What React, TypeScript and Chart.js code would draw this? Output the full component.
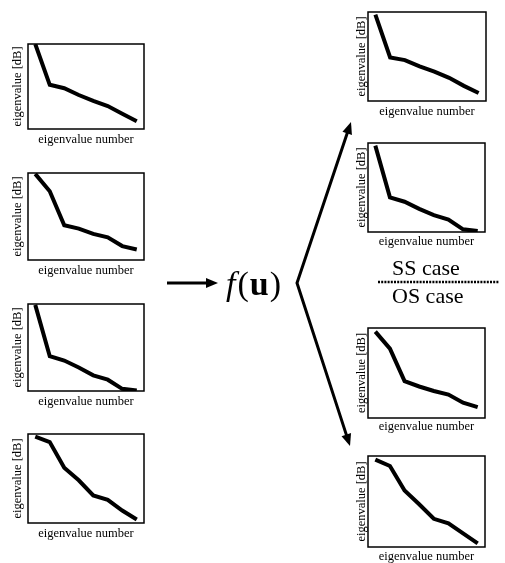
import React, { useEffect, useRef } from "react";
import { Chart, registerables } from "chart.js";

Chart.register(...registerables);

// eigenvalue index (8 eigenvalues per plot)
const eigenIndex = [1, 2, 3, 4, 5, 6, 7, 8];

// left column (inputs), relative eigenvalue level 0..100
const inputA = [100, 52, 48, 40, 33, 27, 18, 9];
const inputB = [99, 79, 40, 36, 30, 26, 16, 12];
const inputC = [99, 40, 35, 27, 18, 13, 2.5, 0.5];
const inputD = [97, 91, 62, 48, 31, 26, 14, 4];

// right column: SS case (top two) and OS case (bottom two)
const ssA = [97, 49, 46, 39, 33, 26, 17, 9];
const ssB = [97, 39, 34, 26, 19, 14, 3, 1];
const osA = [96, 77, 41, 35, 30, 26, 17, 12];
const osB = [96, 89, 62, 47, 31, 26, 15, 4];

const xTitle = "eigenvalue number";
const yTitle = "eigenvalue [dB]";
const ssLabel = "SS case";
const osLabel = "OS case";

const FONT = "'Liberation Serif', 'Times New Roman', serif";
const TITLE_SIZE = 12.5;

const boxPlugin = {
  id: "boxFrame",
  afterDatasetsDraw(chart: any) {
    const { ctx, chartArea } = chart;
    ctx.save();
    ctx.strokeStyle = "#000";
    ctx.lineWidth = 1.5;
    ctx.strokeRect(chartArea.left, chartArea.top, chartArea.right - chartArea.left, chartArea.bottom - chartArea.top);
    ctx.restore();
  },
};

type Box = { x0: number; y0: number; x1: number; y1: number; yOff: number; xOff: number };

const LEFT_W = 24;
const BOTTOM_H = 21;
const PAD = 4;

function MiniChart({ box, values }: { box: Box; values: number[] }) {
  const ref = useRef<HTMLCanvasElement | null>(null);
  const w = box.x1 - box.x0 + LEFT_W + PAD;
  const h = box.y1 - box.y0 + BOTTOM_H + PAD;
  useEffect(() => {
    if (!ref.current) return;
    const half = TITLE_SIZE / 2;
    const ypb = Math.max(0, box.yOff - half);
    const xpb = BOTTOM_H - box.xOff - half;
    const chart = new Chart(ref.current, {
      type: "line",
      data: {
        labels: eigenIndex,
        datasets: [
          {
            data: eigenIndex.map((x, i) => ({ x, y: values[i] })),
            borderColor: "#000",
            borderWidth: 4,
            pointRadius: 0,
            tension: 0,
            fill: false,
          },
        ],
      },
      options: {
        animation: false,
        responsive: false,
        devicePixelRatio: 1,
        layout: { padding: { top: PAD, right: PAD, left: 0, bottom: 0 } },
        plugins: { legend: { display: false }, tooltip: { enabled: false } },
        scales: {
          x: {
            type: "linear",
            min: 0.5,
            max: 8.5,
            grid: { display: false, drawTicks: false, tickLength: 0 },
            border: { display: false },
            ticks: { display: false, padding: 0 },
            title: {
              display: true,
              text: xTitle,
              color: "#000",
              font: { family: FONT, size: TITLE_SIZE, lineHeight: 1 },
              padding: { top: BOTTOM_H - TITLE_SIZE - xpb, bottom: xpb },
            },
          },
          y: {
            min: 0,
            max: 100,
            grid: { display: false, drawTicks: false, tickLength: 0 },
            border: { display: false },
            ticks: { display: false, padding: 0 },
            title: {
              display: true,
              text: yTitle,
              color: "#000",
              font: { family: FONT, size: TITLE_SIZE, lineHeight: 1 },
              padding: { top: LEFT_W - TITLE_SIZE - ypb, bottom: ypb },
            },
          },
        },
      },
      plugins: [boxPlugin],
    });
    return () => chart.destroy();
  }, [box, values]);
  return (
    <canvas
      ref={ref}
      width={w}
      height={h}
      style={{ position: "absolute", left: box.x0 - LEFT_W, top: box.y0 - PAD, width: w, height: h }}
    />
  );
}

const leftBoxes: Box[] = [
  { x0: 28, y0: 44, x1: 144, y1: 129, yOff: 10, xOff: 11 },
  { x0: 28, y0: 173, x1: 144, y1: 260, yOff: 10, xOff: 11 },
  { x0: 28, y0: 304, x1: 144, y1: 391, yOff: 10, xOff: 11 },
  { x0: 28, y0: 434, x1: 144, y1: 523, yOff: 10, xOff: 11 },
];
const rightBoxes: Box[] = [
  { x0: 368, y0: 12, x1: 486, y1: 101, yOff: 6.5, xOff: 11 },
  { x0: 368, y0: 143, x1: 485, y1: 232, yOff: 6.5, xOff: 10 },
  { x0: 368, y0: 328, x1: 485, y1: 418, yOff: 6.5, xOff: 9 },
  { x0: 368, y0: 456, x1: 485, y1: 547, yOff: 6.5, xOff: 10 },
];

function arrowHead(tx: number, ty: number, fx: number, fy: number, len = 12, half = 5) {
  const dx = tx - fx;
  const dy = ty - fy;
  const d = Math.hypot(dx, dy);
  const ux = dx / d;
  const uy = dy / d;
  const bx = tx - ux * len;
  const by = ty - uy * len;
  const px = -uy * half;
  const py = ux * half;
  return `${tx},${ty} ${bx + px},${by + py} ${bx - px},${by - py}`;
}

export default function App() {
  const inputs = [inputA, inputB, inputC, inputD];
  const outputs = [ssA, ssB, osA, osB];
  const vx = 297, vy = 283;
  const topTip = { x: 351, y: 122 };
  const botTip = { x: 350, y: 446 };
  const shorten = (t: { x: number; y: number }, k: number) => {
    const dx = t.x - vx, dy = t.y - vy, d = Math.hypot(dx, dy);
    return { x: t.x - (dx / d) * k, y: t.y - (dy / d) * k };
  };
  const topEnd = shorten(topTip, 8);
  const botEnd = shorten(botTip, 8);
  return (
    <div style={{ position: "fixed", left: 0, top: 0, width: 505, height: 563, background: "#fff", overflow: "hidden" }}>
      {inputs.map((v, i) => (
        <MiniChart key={"l" + i} box={leftBoxes[i]} values={v} />
      ))}
      {outputs.map((v, i) => (
        <MiniChart key={"r" + i} box={rightBoxes[i]} values={v} />
      ))}
      <svg width={505} height={563} style={{ position: "absolute", left: 0, top: 0, pointerEvents: "none" }}>
        <line x1={167} y1={283} x2={209} y2={283} stroke="#000" strokeWidth={3} />
        <polygon points={arrowHead(218, 283, 167, 283)} fill="#000" />
        <polyline
          points={`${topEnd.x},${topEnd.y} ${vx},${vy} ${botEnd.x},${botEnd.y}`}
          fill="none"
          stroke="#000"
          strokeWidth={3}
          strokeLinejoin="miter"
        />
        <polygon points={arrowHead(topTip.x, topTip.y, vx, vy)} fill="#000" />
        <polygon points={arrowHead(botTip.x, botTip.y, vx, vy)} fill="#000" />
        <text x={226} y={295} fontFamily={FONT} fontSize={34} fill="#000">
          <tspan fontStyle="italic">f</tspan>
          <tspan dx={2}>(</tspan>
          <tspan dx={1} fontWeight="bold">u</tspan>
          <tspan dx={1}>)</tspan>
        </text>
        <text x={392} y={275} fontFamily={FONT} fontSize={22} fill="#000">
          {ssLabel}
        </text>
        <line x1={378} y1={282} x2={499} y2={282} stroke="#000" strokeWidth={2.5} strokeDasharray="2 1.2" />
        <text x={392} y={303} fontFamily={FONT} fontSize={22} fill="#000">
          {osLabel}
        </text>
      </svg>
    </div>
  );
}
